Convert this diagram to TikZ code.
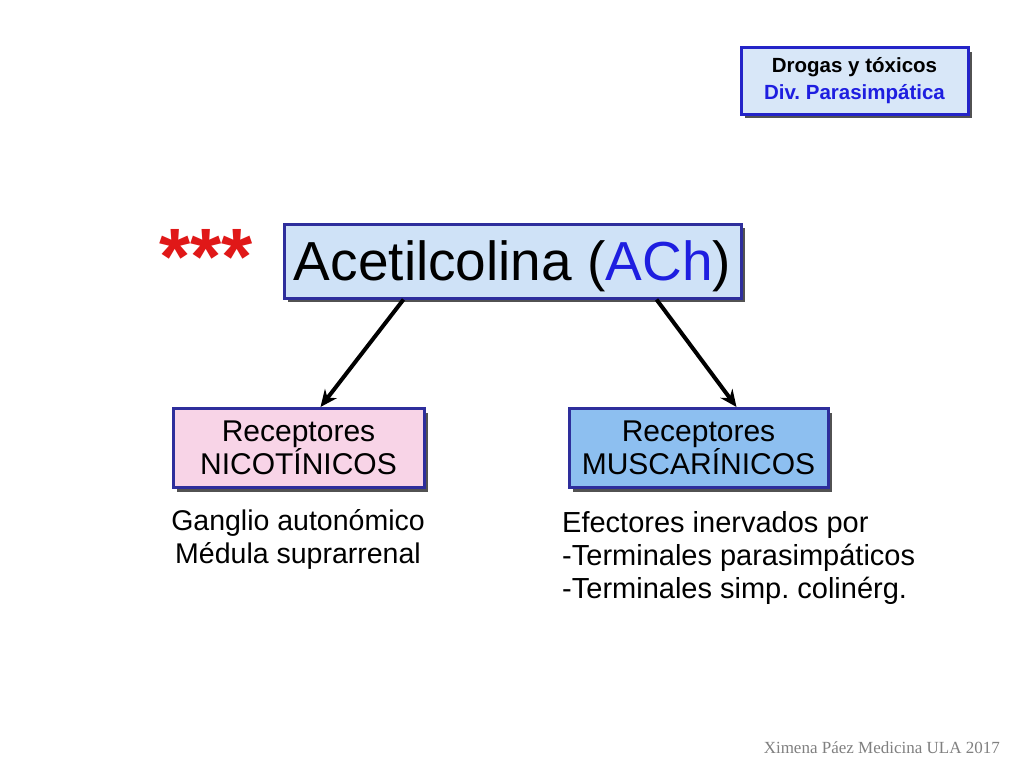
\documentclass[tikz,border=0pt]{standalone}
\usepackage{fontspec}
\setmainfont{Liberation Sans}
\newfontfamily\footfont{Liberation Serif}
\usetikzlibrary{shadows,arrows.meta,calc}
\frenchspacing
\definecolor{boxline}{HTML}{2E2E9C}
\definecolor{topline}{HTML}{2424C8}
\definecolor{mainfill}{HTML}{CFE2F7}
\definecolor{topfill}{HTML}{D8E7F8}
\definecolor{nicfill}{HTML}{F8D4E7}
\definecolor{musfill}{HTML}{8DBFF0}
\definecolor{achblue}{HTML}{1E1EE0}
\definecolor{starred}{HTML}{E01818}
\definecolor{shadowgray}{HTML}{404040}
\tikzset{
  shbox/.style={draw=boxline, line width=3pt, rectangle, inner sep=0pt,
    drop shadow={shadow xshift=4pt, shadow yshift=-4pt, fill=shadowgray, opacity=0.9}},
  conn/.style={line width=4pt, -{Stealth[length=17pt,width=15pt]}},
  bodytext/.style={inner sep=0pt, font=\fontsize{28.5}{32.5}\selectfont}
}
\begin{document}
\begin{tikzpicture}[x=1pt,y=-1pt]
\useasboundingbox (0,0) rectangle (1024,768);
\fill[white] (0,0) rectangle (1024,768);

% top-right label box
\node[shbox, draw=topline, fill=topfill, minimum width=227pt, minimum height=66pt,
  align=center, font=\bfseries\fontsize{20.5}{27}\selectfont] (tag) at (854.5,81)
  {Drogas y tóxicos\\\textcolor{achblue}{Div. Parasimpática}};

% main box
\node[shbox, fill=mainfill, minimum width=457pt, minimum height=74pt,
  font=\fontsize{55}{60}\selectfont, text height=39pt, text depth=0pt] (ach) at (512.5,261)
  {Acetilcolina (\textcolor{achblue}{ACh})};

% stars
\node[inner sep=0pt, text=starred, font=\bfseries\fontsize{80}{80}\selectfont, anchor=north] (stars) at (206,229) {***};

% receptor boxes
\node[shbox, fill=nicfill, minimum width=251pt, minimum height=79pt, align=center,
  font=\fontsize{30}{32}\selectfont] (nic) at (298.5,448)
  {Receptores\\NICOTÍNICOS};
\node[shbox, fill=musfill, minimum width=259pt, minimum height=79pt, align=center,
  font=\fontsize{30}{32}\selectfont] (mus) at (698.5,448)
  {Receptores\\MUSCARÍNICOS};

% connectors
\draw[conn] ([xshift=121pt]ach.south west) -- ([xshift=149pt]nic.north west);
\draw[conn] ([xshift=374pt]ach.south west) -- ([xshift=169pt]mus.north west);

% descriptions (base anchor = last line)
\node[bodytext, align=center, anchor=base] (nictext) at (298,563)
  {Ganglio autonómico\\Médula suprarrenal};
\node[bodytext, align=left, anchor=base west, font=\fontsize{29}{33}\selectfont] (mustext) at (562,598)
  {Efectores inervados por\\-Terminales parasimpáticos\\-Terminales simp. colinérg.};

% footer
\node[inner sep=0pt, anchor=base east, text=gray, font=\footfont\fontsize{17}{20}\selectfont] (foot) at (1000,753)
  {Ximena Páez Medicina ULA 2017};
\end{tikzpicture}
\end{document}
